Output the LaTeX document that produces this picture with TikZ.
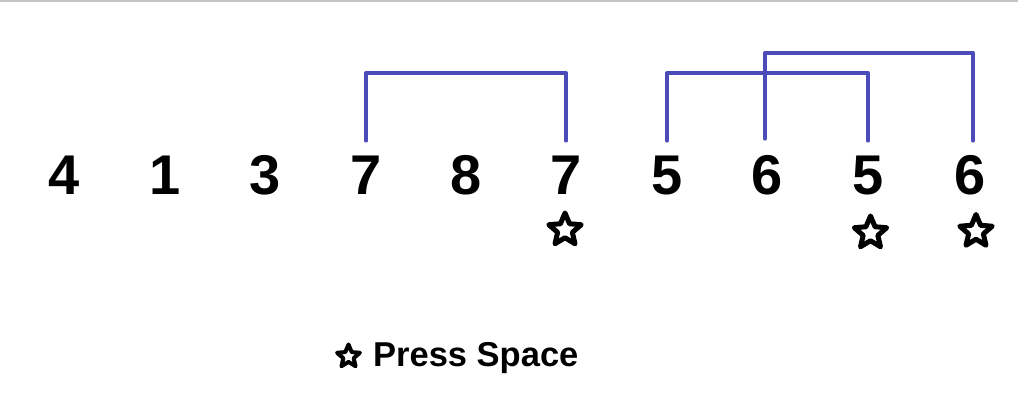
\documentclass[tikz,border=0pt]{standalone}
\usepackage{fontspec}
\setmainfont{Liberation Sans}
\usetikzlibrary{shapes.geometric}
\definecolor{bracketblue}{RGB}{75,75,185}
\definecolor{rulegray}{RGB}{195,195,195}
\tikzset{
  digit/.style={font=\fontsize{56}{56}\selectfont\bfseries, anchor=base, inner sep=0pt, text height=42pt},
  bracket/.style={draw=bracketblue, line width=3.5pt, line join=round, line cap=round},
  mark star/.style={star, star points=5, star point ratio=2.2, draw=black, line width=#1, line join=round, inner sep=0pt},
  label text/.style={font=\fontsize{34.5}{34.5}\selectfont\bfseries, anchor=base west, inner sep=0pt}
}
\begin{document}
\begin{tikzpicture}[x=1pt,y=-1pt]
\useasboundingbox (0,0) rectangle (1018,403);
\fill[white] (0,0) rectangle (1018,403);
\draw[rulegray, line width=2pt] (0,1) -- (1018,1);
% digits
\node[digit] (d1) at (64,195) {4};
\node[digit] (d2) at (165,195) {1};
\node[digit] (d3) at (265,195) {3};
\node[digit] (d4) at (366,195) {7};
\node[digit] (d5) at (466,195) {8};
\node[digit] (d6) at (566,195) {7};
\node[digit] (d7) at (667,195) {5};
\node[digit] (d8) at (767,195) {6};
\node[digit] (d9) at (868,195) {5};
\node[digit] (d10) at (970,195) {6};
% brackets
\draw[bracket] ([yshift=12pt]d4.north) -- ++(0,-68) -| ([yshift=12pt]d6.north);
\draw[bracket] ([yshift=12pt]d7.north) -- ++(0,-68) -| ([yshift=12pt]d9.north);
\draw[bracket] ([xshift=-2pt,yshift=14pt]d8.north) -- ++(0,-86) -| ([xshift=3pt,yshift=12pt]d10.north);
% stars
\node[mark star=5pt, minimum size=34pt] (s1) at (565,230) {};
\node[mark star=5pt, minimum size=34pt] (s2) at (870.5,233) {};
\node[mark star=5pt, minimum size=34pt] (s3) at (976,231.5) {};
% legend
\node[mark star=4pt, minimum size=24pt] (ls) at (348.5,356.5) {};
\node[label text] (lt) at (373,367) {Press Space};
\end{tikzpicture}
\end{document}
